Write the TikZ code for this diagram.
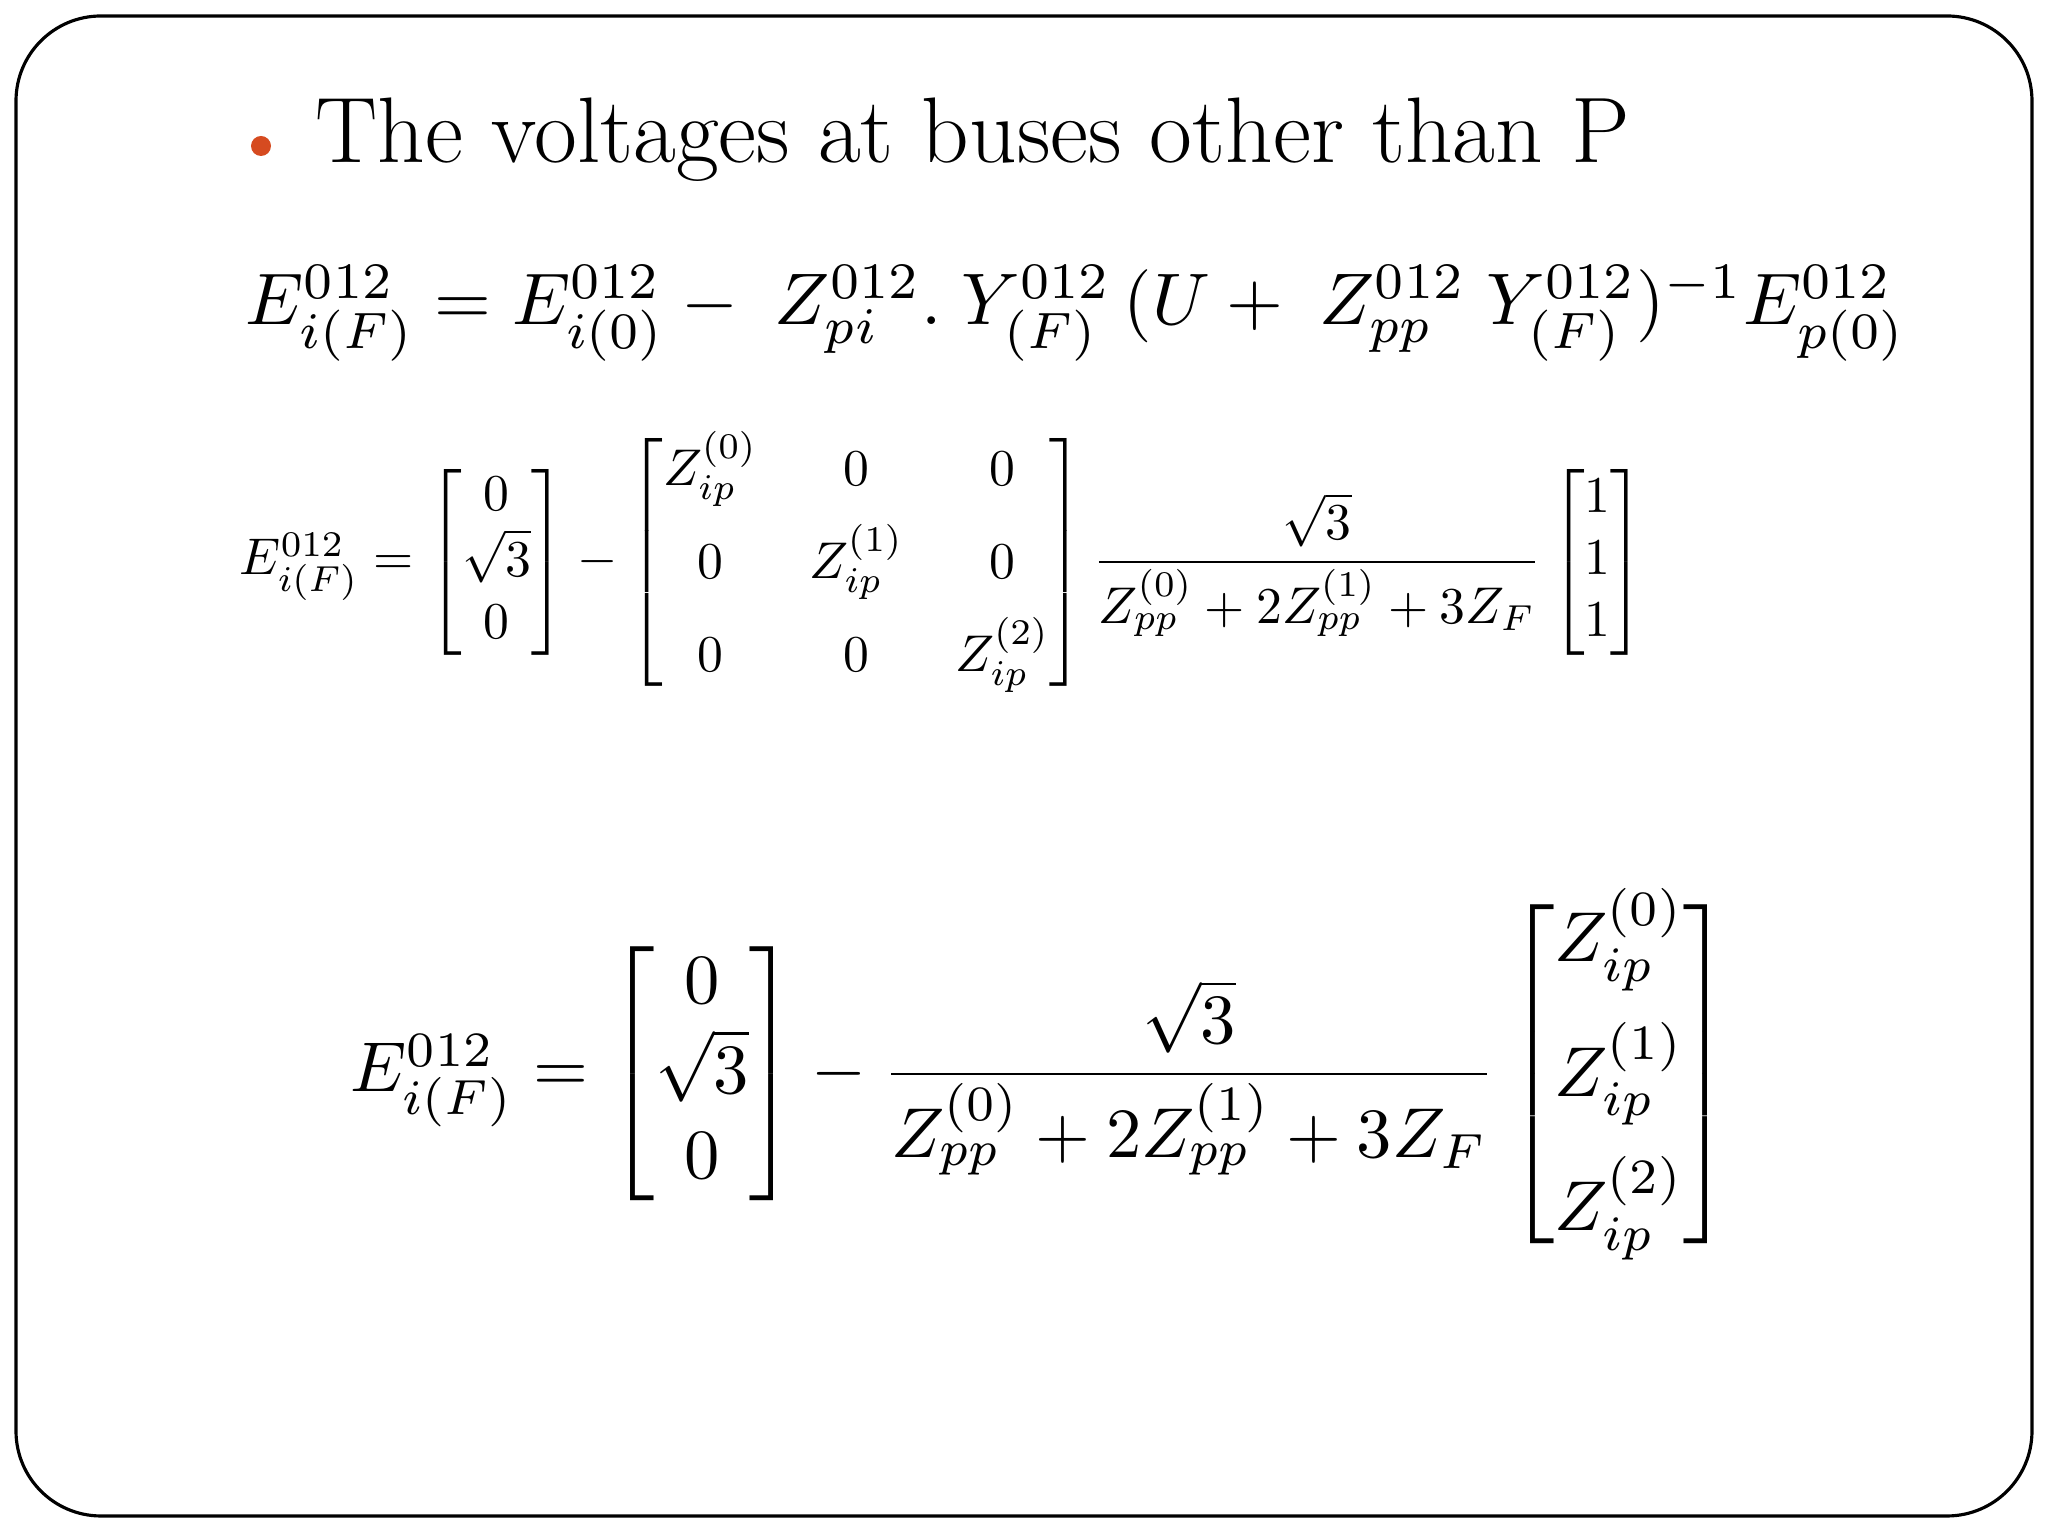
\documentclass[tikz,border=0pt]{standalone}
\usepackage{amsmath,graphicx}
\definecolor{bul}{RGB}{214,75,32}
\begin{document}
\begin{tikzpicture}[x=1cm,y=1cm,
  eq/.style={anchor=west,inner sep=0pt}]
\useasboundingbox (0,0) rectangle (20.48,15.36);
\draw[line width=0.9pt,rounded corners=0.85cm] (0.16,0.2) rectangle (20.32,15.2);
\fill[bul] (2.61,13.9) circle (0.1);
\node[anchor=west,inner sep=0pt,font=\fontsize{26.5}{30}\selectfont] (t) at (3.15,13.96) {The voltages at buses other than P};
\node[eq] (e1) at (2.45,12.23) {\resizebox{16.6cm}{!}{$E^{012}_{i(F)} = E^{012}_{i(0)} -\; Z^{012}_{pi}.\; Y^{012}_{(F)}\,(U +\; Z^{012}_{pp}\; Y^{012}_{(F)})^{-1} E^{012}_{p(0)}$}};
\node[eq] (e2) at (2.39,9.74) {\resizebox{14.05cm}{!}{$E^{012}_{i(F)} = \begin{bmatrix}0\\ \sqrt{3}\\ 0\end{bmatrix} - \begin{bmatrix}Z^{(0)}_{ip} & 0 & 0\\[4pt] 0 & Z^{(1)}_{ip} & 0\\[4pt] 0 & 0 & Z^{(2)}_{ip}\end{bmatrix} \dfrac{\sqrt{3}}{Z^{(0)}_{pp}+2Z^{(1)}_{pp}+3Z_F}\begin{bmatrix}1\\1\\1\end{bmatrix}$}};
\node[eq] (e3) at (3.5,4.62) {\resizebox{13.8cm}{!}{$E^{012}_{i(F)} = \begin{bmatrix}0\\ \sqrt{3}\\ 0\end{bmatrix} - \dfrac{\sqrt{3}}{Z^{(0)}_{pp}+2Z^{(1)}_{pp}+3Z_F}\begin{bmatrix}Z^{(0)}_{ip}\\[5pt] Z^{(1)}_{ip}\\[5pt] Z^{(2)}_{ip}\end{bmatrix}$}};
\end{tikzpicture}
\end{document}
